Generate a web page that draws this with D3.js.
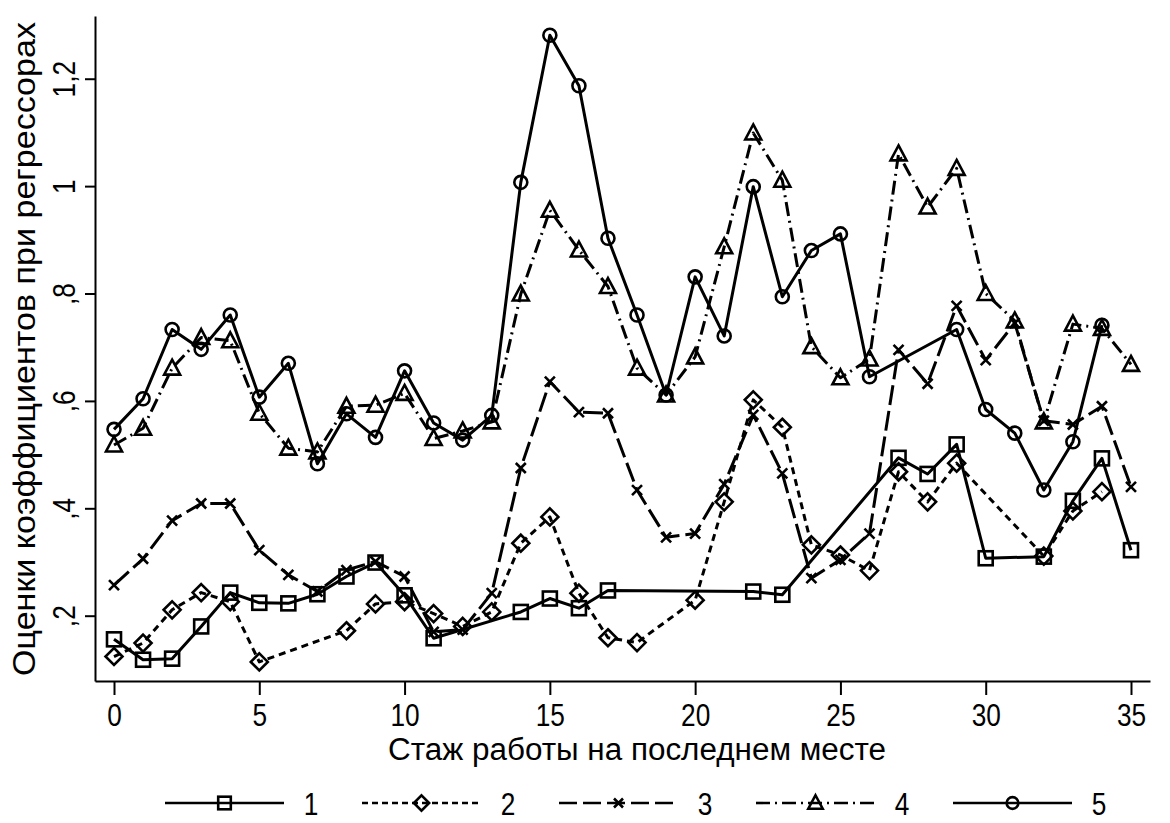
<!DOCTYPE html>
<html lang="ru">
<head>
<meta charset="utf-8">
<title>Оценки коэффициентов при регрессорах</title>
<script src="https://cdn.jsdelivr.net/npm/d3@7/dist/d3.min.js"></script>
<style>
  html, body { margin: 0; padding: 0; background: #fff; }
  svg { display: block; }
  text { font-family: "Liberation Sans", Arial, "DejaVu Sans", sans-serif; fill: #000; }
</style>
</head>
<body>
<svg id="chart" width="1170" height="823"></svg>
<script>
// Стаж работы на последнем месте (лет)
const tenure = d3.range(0, 36);

// Оценки коэффициентов по пяти регрессорам (null — нет оценки)
const series1 = [0.156,0.118,0.120,0.180,0.243,0.224,0.223,0.240,0.273,0.299,0.238,0.158,null,null,0.207,0.232,0.214,0.247,null,null,null,null,0.245,0.239,null,null,null,0.494,0.464,0.519,0.307,null,0.310,0.414,0.493,0.322];
const series2 = [0.124,0.149,0.211,0.243,0.226,0.114,null,null,0.172,0.222,0.226,0.204,0.180,0.207,0.335,0.384,0.242,0.159,0.150,null,0.229,0.412,0.602,0.551,0.332,0.313,0.284,0.468,0.412,0.484,null,null,0.311,0.395,0.431,null];
const series3 = [0.257,0.306,0.377,0.409,0.409,0.322,0.276,0.245,0.285,0.301,0.273,0.170,0.174,0.242,0.475,0.636,0.579,0.577,0.434,0.346,0.353,0.445,0.574,0.465,0.270,0.304,0.353,0.695,0.632,0.777,0.676,0.745,0.563,0.556,0.590,0.440];
const series4 = [0.518,0.549,0.661,0.718,0.712,0.577,0.512,0.505,0.590,0.592,0.614,0.530,0.544,0.561,0.799,0.955,0.881,0.813,0.661,0.611,0.682,0.887,1.099,1.011,0.701,0.643,0.678,1.060,0.961,1.033,0.800,0.749,0.561,0.743,0.735,0.668];
const series5 = [0.547,0.604,0.733,0.696,0.760,0.607,0.670,0.483,0.576,0.532,0.656,0.559,0.527,0.573,1.007,1.281,1.187,0.903,0.760,0.611,0.831,0.721,0.999,0.794,0.880,0.911,0.645,null,null,0.733,0.584,0.540,0.434,0.524,0.741,null];

const seriesNames = ["1", "2", "3", "4", "5"];
const xTicks = [0, 5, 10, 15, 20, 25, 30, 35];
const yTicks = [0.2, 0.4, 0.6, 0.8, 1.0, 1.2];
const yTickLabels = [",2", ",4", ",6", ",8", "1", "1,2"];
const xTitle = "Стаж работы на последнем месте";
const yTitle = "Оценки коэффициентов при регрессорах";

// Оформление серий: тип линии и маркер
const styles = [
  { dash: null,          legendDash: null,          marker: "square"   },
  { dash: "7,5",         legendDash: "6,4",         marker: "diamond"  },
  { dash: "20,6",        legendDash: "18,6",        marker: "cross"    },
  { dash: "14,5,2,5",    legendDash: "14,5,2,5",    marker: "triangle" },
  { dash: null,          legendDash: null,          marker: "circle"   }
];

const svg = d3.select("#chart");
const x = d3.scaleLinear().domain([-0.654, 35.654]).range([95, 1150]);
const y = d3.scaleLinear().domain([0.0784, 1.3168]).range([681, 16]);

// Оси
const xAxis = svg.append("g")
  .attr("transform", `translate(0,${y.range()[0]})`)
  .call(d3.axisBottom(x).tickValues(xTicks).tickSize(14).tickSizeOuter(0).tickFormat(d3.format("d")));
const yAxis = svg.append("g")
  .attr("transform", `translate(${x.range()[0]},0)`)
  .call(d3.axisLeft(y).tickValues(yTicks).tickSize(10).tickSizeOuter(0)
        .tickFormat((d, i) => yTickLabels[i]));

[xAxis, yAxis].forEach(g => {
  g.select(".domain").attr("stroke", "#000").attr("stroke-width", 2);
  g.selectAll(".tick line").attr("stroke", "#000").attr("stroke-width", 2);
  g.selectAll(".tick text").attr("font-size", 32).attr("fill", "#000")
    .style("font-family", '"Liberation Sans", Arial, sans-serif');
});
xAxis.selectAll(".tick text")
  .attr("y", 0).attr("dy", 0)
  .attr("transform", "translate(0,45) scale(0.82,1)")
  .attr("text-anchor", "middle");
yAxis.selectAll(".tick text")
  .attr("x", 0).attr("dy", 0)
  .attr("transform", "translate(-20,0) rotate(-90) scale(0.82,1)")
  .attr("text-anchor", "middle");

// Подписи осей
svg.append("text")
  .attr("x", 637).attr("y", 760)
  .attr("text-anchor", "middle")
  .attr("font-size", 31)
  .attr("textLength", 498).attr("lengthAdjust", "spacingAndGlyphs")
  .text(xTitle);
svg.append("text")
  .attr("transform", "translate(35,349) rotate(-90)")
  .attr("text-anchor", "middle")
  .attr("font-size", 31)
  .attr("textLength", 654).attr("lengthAdjust", "spacingAndGlyphs")
  .text(yTitle);

// Маркеры
function drawMarker(g, type, cx, cy, k) {
  const s = k || 1;
  const common = sel => sel.attr("fill", "none").attr("stroke", "#000").attr("stroke-width", 2.6 * Math.min(1, s + 0.1));
  if (type === "square") {
    const h = 7 * s;
    common(g.append("rect").attr("x", cx - h).attr("y", cy - h).attr("width", 2 * h).attr("height", 2 * h));
  } else if (type === "diamond") {
    const h = 8.5 * s;
    common(g.append("path").attr("d", `M${cx},${cy - h}L${cx + h},${cy}L${cx},${cy + h}L${cx - h},${cy}Z`));
  } else if (type === "cross") {
    const h = 5 * s;
    common(g.append("path").attr("d", `M${cx - h},${cy - h}L${cx + h},${cy + h}M${cx - h},${cy + h}L${cx + h},${cy - h}`));
  } else if (type === "triangle") {
    const w = 8 * s, hh = 7.5 * s;
    common(g.append("path").attr("d", `M${cx},${cy - hh - 1}L${cx + w},${cy + hh - 1}L${cx - w},${cy + hh - 1}Z`));
  } else if (type === "circle") {
    common(g.append("circle").attr("cx", cx).attr("cy", cy).attr("r", 6.5 * s));
  }
}

// Линии и точки серий
const allSeries = [series1, series2, series3, series4, series5];
const line = d3.line().x(d => x(d.t)).y(d => y(d.v));

allSeries.forEach((vals, i) => {
  const pts = tenure.map((t, j) => ({ t, v: vals[j] })).filter(d => d.v != null);
  const g = svg.append("g").attr("class", "series s" + (i + 1));
  g.append("path")
    .datum(pts)
    .attr("d", line)
    .attr("fill", "none")
    .attr("stroke", "#000")
    .attr("stroke-width", 3)
    .attr("stroke-linejoin", "round")
    .attr("stroke-dasharray", styles[i].dash);
  pts.forEach(p => drawMarker(g, styles[i].marker, x(p.t), y(p.v), 1));
});

// Легенда
const legendY = 803;
const legendStart = 165, legendStep = 197, legendLen = 119;
seriesNames.forEach((name, i) => {
  const x0 = legendStart + i * legendStep;
  const g = svg.append("g").attr("class", "legend-item");
  g.append("line")
    .attr("x1", x0).attr("x2", x0 + legendLen)
    .attr("y1", legendY).attr("y2", legendY)
    .attr("stroke", "#000").attr("stroke-width", 2.6)
    .attr("stroke-dasharray", styles[i].legendDash);
  drawMarker(g, styles[i].marker, x0 + legendLen / 2, legendY, 0.9);
  g.append("text")
    .attr("transform", `translate(${x0 + legendLen + 27},${legendY + 12}) scale(0.82,1)`)
    .attr("text-anchor", "middle")
    .attr("font-size", 32)
    .text(name);
});
</script>
</body>
</html>
